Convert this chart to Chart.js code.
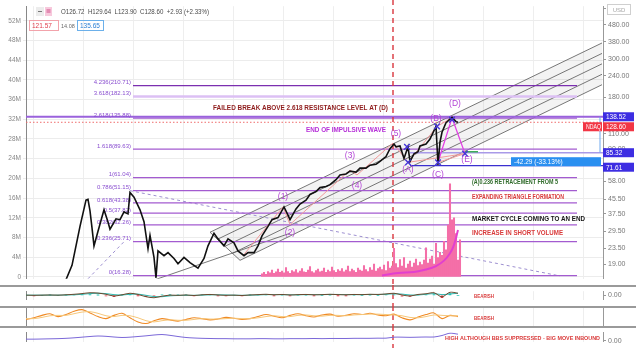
<!DOCTYPE html>
<html>
<head>
<meta charset="utf-8">
<title>NDAQ</title>
<script src="https://cdn.jsdelivr.net/npm/chart.js@4.4.1/dist/chart.umd.min.js"></script>
<style>
  html, body { margin: 0; padding: 0; background: #fff; }
  #wrap { position: relative; width: 636px; height: 348px; overflow: hidden; }
  #wrap canvas { position: absolute; left: 0; }
</style>
</head>
<body>
<div id="wrap">
  <canvas id="mainChart" width="636" height="285" style="top:0"></canvas>
  <canvas id="oscChart" width="636" height="21" style="top:285px"></canvas>
  <canvas id="rsiChart" width="636" height="20" style="top:306px"></canvas>
  <canvas id="bbwChart" width="636" height="22" style="top:326px"></canvas>
</div>
<script>
// ---- data (bar index along x, price in USD, volume in millions) ----
const priceIdx = [20,23,25,27,29,30,31,32,33,34,36,39,41,42,45,47,49,51,52,54,57,59,61,62,64,65,66,69,71,74,76,79,82,86,89,91,94,96,99,101,104,106,109,111,114,116,118,121,123,126,129,131,132,135,137,140,142,145,147,150,152,155,157,160,162,165,167,170,172,175,177,180,182,184,185,187,189,191,192,194,196,197,200,202,205,206,207,208,210,213,215,216];
const priceClose = [15.4,18.7,24.3,31.6,40.0,45.0,45.5,39.0,31.0,24.3,29.6,39.5,33.5,30.4,35.0,34.6,38.4,37.4,49.9,46.9,39.5,33.7,23.4,28.0,20.8,15.8,22.7,21.3,22.2,20.5,19.1,20.8,19.4,18.0,20.5,24.3,28.8,26.7,24.3,26.7,25.3,22.7,21.3,22.2,22.2,24.3,27.8,31.6,34.6,35.6,41.1,36.8,34.6,40.0,42.7,45.0,48.6,50.6,53.3,54.1,55.5,59.3,63.2,64.1,66.6,65.7,69.3,69.3,72.1,73.0,75.9,81.0,90.0,96.0,92.4,93.5,78.9,92.4,75.9,84.0,86.5,93.5,96.0,102.6,121.6,72.5,98.6,112.4,128.0,137.5,129.7,128.6];

const volStart = 118;
const shortVolume = [
  0.6,0.9,0.5,1.1,0.8,1.4,0.7,1.0,1.6,0.9,
  1.2,0.8,1.9,1.1,0.7,1.3,1.0,1.5,0.8,1.2,
  1.7,1.0,0.9,1.4,2.1,1.1,0.8,1.3,1.6,1.0,
  1.2,1.8,0.9,1.4,1.1,2.0,1.3,0.9,1.5,1.2,
  1.7,1.0,1.4,2.2,1.1,1.6,1.3,0.9,1.8,1.4,
  1.2,2.3,1.5,1.1,1.9,1.4,2.6,1.2,1.7,2.0,
  1.5,2.4,1.3,3.1,1.8,2.2,5.8,2.7,1.9,3.5,
  2.2,3.9,1.8,2.6,3.2,2.0,2.8,3.6,2.3,3.0,
  2.5,3.4,5.9,2.8,3.6,4.2,2.6,6.8,3.9,5.0,
  4.4,7.2,5.5,10.5,18.9,11.6,12.0,8.8,3.4,7.5
];
const volTrendIdx = [178,186,194,200,205,209,212,214,216];
const volTrend = [0.3,0.8,1.0,1.5,2.2,3.3,4.8,6.5,9.5];

const fibRatios = ['4.236','3.618','2.618','1.618','1','0.786','0.618','0.5','0.382','0.236','0'];
const fibPrices = [210.71,182.13,135.88,89.63,61.04,51.15,43.38,37.82,32.26,25.71,16.28];
const fibFrom = 53.5, fibTo = 275.5;

const priceTicks = [19,23.5,29.5,37.5,45.5,58,90,110,180,240,300,380,480,600];
const volTicks = [0,4,8,12,16,20,24,28,32,36,40,44,48,52];
const gridIdx = [3.5,28.5,53.5,78.5,103.5,128.5,153.5,178.5,203.5,228.5,253.5,278.5];

const waveNames = ['(1)','(2)','(3)','(4)','(5)','(A)','(B)','(C)','(D)','(E)'];
const waveIdx = [128.5,132,162,165.5,185,191,205,206,214.5,220.5];
const wavePrice = [47.4,29.2,82.1,54.7,110.9,67.5,135,63.2,164.3,77.9];

const pivotIdx = [190.5,205.5,213,191,206,219.5];
const pivotPrice = [92.4,121.6,133.2,74.9,74.9,84.3];

// wave path: 0,1,2,3,4,5 then A..E
const impulseIdx = [108.5,128.5,132,162,165.5,183.5];
const impulsePrice = [21.3,41.1,32.4,67.5,63.2,97.3];
const ptA = [191,74.9], ptB = [205.5,121.6], ptC = [206,74.9], ptD = [213,136.8], ptE = [219.5,84.3];

const channelTop = [[92,29.2],[288,374.6]];
const channelBottom = [[107,20.0],[288,213.4]];
const supportLine = [[64.5,15.4],[132,28.8]];
const fallingLine = [[52,51.15],[267,16.2]];
const fibDiagonal = [[31,15.6],[49,25.7]];

const turnIdx = 183.5;
const lastPrice = 128.60;
const tagPrices = [138.52,85.32,71.61];

const oscStart = 0, oscStep = 4;
const macdLine = [0.1,0.0,0.1,0.2,0.1,0.3,0.6,1.0,1.5,1.3,0.6,-0.4,0.3,1.2,0.5,-0.8,-1.4,-0.5,0.1,0.0,0.2,-0.1,0.3,0.5,0.2,0.0,0.1,-0.1,0.2,0.4,0.6,0.3,0.5,0.2,0.4,0.5,0.3,0.4,0.6,0.4,0.3,0.5,0.4,0.6,0.5,0.8,1.2,0.2,-0.4,0.5,0.9,1.5,-0.9,1.8,1.2];
const signalLine = [0.1,0.1,0.1,0.1,0.1,0.2,0.3,0.6,1.0,1.2,1.0,0.4,0.2,0.6,0.7,0.0,-0.7,-0.8,-0.3,-0.1,0.0,0.0,0.1,0.3,0.3,0.2,0.1,0.0,0.1,0.2,0.4,0.4,0.4,0.3,0.3,0.4,0.4,0.4,0.5,0.5,0.4,0.4,0.4,0.5,0.5,0.6,0.9,0.7,0.2,0.2,0.6,1.0,0.4,0.8,1.2];
const rsiLine = [48,52,58,62,55,60,68,72,64,55,50,58,63,52,42,38,45,50,47,44,48,52,50,47,49,53,51,48,50,55,60,56,52,58,62,57,54,59,61,56,58,62,60,63,59,57,61,52,47,54,60,64,50,58,55];
const rsiSignal = [50,50,53,57,58,58,62,66,67,63,57,55,58,57,52,45,42,45,47,46,46,48,50,49,49,50,51,50,50,52,55,57,55,55,58,59,57,56,58,58,57,59,60,61,61,60,59,57,53,52,55,59,58,57,57];
const bbWidth = [1.0,1.0,1.1,1.2,1.3,1.5,1.8,2.2,2.6,2.9,2.7,2.3,2.0,2.2,2.6,3.0,3.5,3.8,3.3,2.6,2.0,1.7,1.5,1.4,1.3,1.3,1.2,1.2,1.2,1.3,1.3,1.2,1.2,1.3,1.3,1.3,1.4,1.3,1.4,1.4,1.4,1.5,1.5,1.5,1.6,1.6,2.2,2.2,2.1,2.2,2.3,2.3,3.2,4.6,4.0];

// ---- chart ----
const FONT = '"Liberation Sans", Arial, sans-serif';
Chart.defaults.font.family = FONT;
Chart.defaults.animation = false;

const fitLeft = s => { s.width = 26; };
const fitRight = s => { s.width = 33; };
const xScale = () => ({
  type: 'linear', min: 0, max: 288.5, offset: false,
  ticks: { display: false },
  grid: { color: '#eeeeee', drawTicks: false, offset: false },
  border: { display: false },
  afterBuildTicks: s => { s.ticks = gridIdx.map(v => ({ value: v })); },
  afterFit: s => { s.height = 0; }
});

function note(ctx, text, x, y, color, w, size) {
  ctx.font = 'bold ' + (size || 7) + 'px ' + FONT;
  ctx.fillStyle = color;
  ctx.textAlign = 'left';
  ctx.textBaseline = 'middle';
  ctx.fillText(text, x, y, w);
}

function seg(ctx, x1, y1, x2, y2) {
  ctx.beginPath(); ctx.moveTo(x1, y1); ctx.lineTo(x2, y2); ctx.stroke();
}

function dashedTurn(chart) {
  const ctx = chart.ctx, x = chart.scales.x.getPixelForValue(turnIdx);
  ctx.save();
  ctx.strokeStyle = '#d9363e';
  ctx.lineWidth = 1.4;
  ctx.setLineDash([5, 4]);
  seg(ctx, x, 0, x, chart.height);
  ctx.restore();
}

const mainDecor = {
  id: 'mainDecor',
  beforeDatasetsDraw(chart) {
    const { ctx, chartArea: a, scales: { x, price } } = chart;
    const X = v => x.getPixelForValue(v), P = v => price.getPixelForValue(v);
    ctx.save();
    ctx.beginPath(); ctx.rect(a.left, a.top, a.right - a.left, a.bottom - a.top); ctx.clip();

    // parallel channel
    const t0 = [X(channelTop[0][0]), P(channelTop[0][1])], t1 = [X(channelTop[1][0]), P(channelTop[1][1])];
    const b0 = [X(channelBottom[0][0]), P(channelBottom[0][1])], b1 = [X(channelBottom[1][0]), P(channelBottom[1][1])];
    const mix = (p, q, t) => [p[0] + (q[0] - p[0]) * t, p[1] + (q[1] - p[1]) * t];
    const rails = [0, 0.25, 0.5, 0.75, 1].map(t => [mix(t0, b0, t), mix(t1, b1, t)]);
    ctx.fillStyle = 'rgba(90,90,90,0.07)';
    for (let k = 0; k < 4; k++) {
      const r1 = rails[k], r2 = rails[k + 1];
      ctx.beginPath();
      ctx.moveTo(r1[0][0], r1[0][1]); ctx.lineTo(r1[1][0], r1[1][1]);
      ctx.lineTo(r2[1][0], r2[1][1]); ctx.lineTo(r2[0][0], r2[0][1]);
      ctx.closePath(); ctx.fill();
    }
    ctx.strokeStyle = '#555';
    ctx.lineWidth = 0.8;
    rails.forEach(r => seg(ctx, r[0][0], r[0][1], r[1][0], r[1][1]));
    seg(ctx, t0[0], t0[1], b0[0], b0[1]);
    seg(ctx, X(supportLine[0][0]), P(supportLine[0][1]), X(supportLine[1][0]), P(supportLine[1][1]));

    // dashed trend lines
    ctx.strokeStyle = '#9d8fd0';
    ctx.lineWidth = 1;
    ctx.setLineDash([3, 3]);
    seg(ctx, X(fallingLine[0][0]), P(fallingLine[0][1]), X(fallingLine[1][0]), P(fallingLine[1][1]));
    seg(ctx, X(fibDiagonal[0][0]), P(fibDiagonal[0][1]), X(fibDiagonal[1][0]), P(fibDiagonal[1][1]));
    ctx.setLineDash([]);

    // fib levels
    fibPrices.forEach((v, i) => {
      const y = P(v);
      ctx.strokeStyle = i === 0 ? '#7b2fb0' : (i === 1 ? '#dcc0f4' : '#a35bd0');
      ctx.lineWidth = i === 1 ? 2.5 : 1.2;
      seg(ctx, X(fibFrom), y, X(fibTo), y);
    });
    // resistance + tagged levels
    ctx.strokeStyle = '#9a62dc'; ctx.lineWidth = 2;
    seg(ctx, a.left, P(tagPrices[0]), a.right, P(tagPrices[0]));
    ctx.strokeStyle = '#a99ae8'; ctx.lineWidth = 1.5;
    seg(ctx, X(192), P(tagPrices[1]), a.right, P(tagPrices[1]));
    ctx.strokeStyle = '#3b2fd0'; ctx.lineWidth = 1.3;
    seg(ctx, X(192), P(tagPrices[2]), a.right, P(tagPrices[2]));
    ctx.strokeStyle = '#6fa8ef'; ctx.lineWidth = 1;
    seg(ctx, X(287), P(tagPrices[0]), X(287), P(tagPrices[1]));
    ctx.strokeStyle = '#3fae5a'; ctx.lineWidth = 1.5;
    seg(ctx, X(219), P(86.5), X(226), P(86.5));

    // last price line
    ctx.strokeStyle = '#ef6b6b'; ctx.lineWidth = 1;
    ctx.setLineDash([1.5, 2]);
    seg(ctx, a.left, P(lastPrice), a.right, P(lastPrice));
    ctx.setLineDash([]);

    // wave lines
    ctx.strokeStyle = '#f29a9a'; ctx.lineWidth = 1;
    ctx.beginPath();
    impulseIdx.forEach((v, i) => { const px = X(v), py = P(impulsePrice[i]); i ? ctx.lineTo(px, py) : ctx.moveTo(px, py); });
    ctx.lineTo(X(ptA[0]), P(ptA[1]));
    ctx.lineTo(X(ptB[0]), P(ptB[1]));
    ctx.stroke();
    [[ptA, ptE], [ptC, ptE], [ptB, ptD]].forEach(([p, q]) => seg(ctx, X(p[0]), P(p[1]), X(q[0]), P(q[1])));
    ctx.strokeStyle = '#e43fe6'; ctx.lineWidth = 1.3;
    ctx.beginPath();
    ctx.moveTo(X(ptC[0]), P(ptC[1])); ctx.lineTo(X(ptD[0]), P(ptD[1])); ctx.lineTo(X(ptE[0]), P(ptE[1]));
    ctx.stroke();
    ctx.restore();

    dashedTurn(chart);

    // fib labels
    ctx.save();
    ctx.font = '6px ' + FONT;
    ctx.fillStyle = '#8a4fd0';
    ctx.textAlign = 'right';
    ctx.textBaseline = 'middle';
    fibPrices.forEach((v, i) => {
      ctx.fillText(fibRatios[i] + '(' + v.toFixed(2) + ')', X(fibFrom) - 2, P(v) - 3);
    });
    ctx.restore();
  },
  afterDatasetsDraw(chart) {
    const { ctx, scales: { x, price } } = chart;
    const X = v => x.getPixelForValue(v), P = v => price.getPixelForValue(v);
    ctx.save();
    ctx.font = '8.5px ' + FONT;
    ctx.fillStyle = '#b345d6';
    ctx.textAlign = 'center';
    ctx.textBaseline = 'middle';
    waveNames.forEach((n, i) => ctx.fillText(n, X(waveIdx[i]), P(wavePrice[i])));

    note(ctx, 'FAILED BREAK ABOVE 2.618 RESISTANCE LEVEL AT (D)', X(93.5), P(155.9), '#8e1b1b', 175);
    note(ctx, 'END OF IMPULSIVE WAVE', X(140), P(115.4), '#b62fd8', 80);
    note(ctx, '(A)0.236 RETRACEMENT FROM 5', X(223), P(57.7), '#2f6b2a', 86);
    note(ctx, 'EXPANDING TRIANGLE FORMATION', X(223), P(46.8), '#d93a3a', 92);
    note(ctx, 'MARKET CYCLE COMING TO AN END', X(223), P(35.1), '#151515', 113);
    note(ctx, 'INCREASE IN SHORT VOLUME', X(223), P(28.8), '#d93a3a', 91);
    ctx.restore();
  },
  afterDraw(chart) {
    const { ctx, chartArea: a, scales: { price } } = chart;
    const P = v => price.getPixelForValue(v);
    ctx.save();
    ctx.textBaseline = 'middle';
    // price tags on right axis
    const tag = (txt, x0, w, y, bg, fg) => {
      ctx.fillStyle = bg;
      ctx.fillRect(x0, y - 4.5, w, 9);
      ctx.fillStyle = fg || '#fff';
      ctx.font = '6.5px ' + FONT;
      ctx.textAlign = 'left';
      ctx.fillText(txt, x0 + 3, y + 0.5, w - 4);
    };
    tag('-42.29 (-33.13%)', 511, 90, P(tagPrices[1]) + 9, '#2a8ff0');
    tag(tagPrices[0].toFixed(2), a.right, 31, P(tagPrices[0]), '#3d2de2');
    tag('NDAQ', a.right - 20, 19, P(tagPrices[0]) + 10, '#f23645');
    tag(lastPrice.toFixed(2), a.right, 31, P(tagPrices[0]) + 10, '#f23645');
    tag(tagPrices[1].toFixed(2), a.right, 31, P(tagPrices[1]), '#3d2de2');
    tag(tagPrices[2].toFixed(2), a.right, 31, P(tagPrices[2]) + 1.5, '#3d2de2');

    // USD badge
    ctx.fillStyle = '#fff';
    ctx.fillRect(607, 4, 24, 11);
    ctx.strokeStyle = '#cfcfcf'; ctx.lineWidth = 1;
    ctx.strokeRect(607.5, 4.5, 23, 10);
    ctx.fillStyle = '#a8a8a8'; ctx.font = '6px ' + FONT; ctx.textAlign = 'center';
    ctx.fillText('USD', 619, 10);

    // legend header
    ctx.fillStyle = '#ececec'; ctx.fillRect(36, 7, 8, 9);
    ctx.fillStyle = '#f7c9dc'; ctx.fillRect(45, 7, 7, 9);
    ctx.fillStyle = '#777'; ctx.fillRect(38, 11, 4, 1);
    ctx.fillStyle = '#d0508a'; ctx.fillRect(46.5, 9.5, 4, 1); ctx.fillRect(46.5, 11.5, 4, 1);
    ctx.textAlign = 'left';
    ctx.fillStyle = '#4a4a4a';
    ctx.font = '6.5px ' + FONT;
    ctx.fillText('O126.72  H129.64  L123.90  C128.60  +2.93 (+2.33%)', 61, 12, 148);
    ctx.strokeStyle = '#f2a3ab'; ctx.strokeRect(29.5, 20.5, 29, 10);
    ctx.fillStyle = '#e0404f'; ctx.fillText('121.57', 32, 26, 24);
    ctx.fillStyle = '#6a6a6a'; ctx.font = '5.5px ' + FONT; ctx.fillText('14.08', 61, 26);
    ctx.strokeStyle = '#6cb0ea'; ctx.strokeRect(77.5, 20.5, 26, 10);
    ctx.fillStyle = '#2a7fd4'; ctx.font = '6.5px ' + FONT; ctx.fillText('135.65', 80, 26, 22);
    ctx.restore();
  }
};

new Chart(document.getElementById('mainChart'), {
  type: 'line',
  data: {
    datasets: [
      {
        type: 'line', label: 'NDAQ', yAxisID: 'price',
        data: priceIdx.map((v, i) => ({ x: v, y: priceClose[i] })),
        borderColor: '#111', borderWidth: 1.6, pointRadius: 0, order: 0
      },
      {
        type: 'scatter', label: 'pivots', yAxisID: 'price',
        data: pivotIdx.map((v, i) => ({ x: v, y: pivotPrice[i] })),
        pointStyle: 'crossRot', pointRadius: 4, borderColor: '#4637d8', borderWidth: 1.4, order: -1
      },
      {
        type: 'line', label: 'short volume trend', yAxisID: 'vol',
        data: volTrendIdx.map((v, i) => ({ x: v, y: volTrend[i] })),
        borderColor: '#e23fcf', borderWidth: 2, tension: 0.4, pointRadius: 0, order: 1
      },
      {
        type: 'bar', label: 'short volume', yAxisID: 'vol',
        data: shortVolume.map((v, i) => ({ x: volStart + i, y: v })),
        backgroundColor: '#f46fa8', barThickness: 1.4, order: 2
      }
    ]
  },
  options: {
    responsive: false,
    animation: false,
    layout: { padding: { top: 3, bottom: 1, left: 0, right: 0 } },
    plugins: { legend: { display: false }, tooltip: { enabled: false } },
    scales: {
      x: xScale(),
      price: {
        type: 'logarithmic', position: 'right', min: 15.59, max: 615,
        afterBuildTicks: s => { s.ticks = priceTicks.map(v => ({ value: v })); },
        afterFit: fitRight,
        grid: { drawOnChartArea: false, tickLength: 3, color: '#999' },
        border: { color: '#999' },
        ticks: { font: { size: 7 }, color: '#777', padding: 2, callback: v => Number(v).toFixed(2) }
      },
      vol: {
        type: 'linear', position: 'left', min: -0.39, max: 54.96,
        afterBuildTicks: s => { s.ticks = volTicks.map(v => ({ value: v })); },
        afterFit: fitLeft,
        grid: { color: '#ececec', tickLength: 3 },
        border: { color: '#888' },
        ticks: { font: { size: 6.5 }, color: '#888', padding: 2, callback: v => v === 0 ? '0' : v + 'M' }
      }
    }
  },
  plugins: [mainDecor]
});

// ---- indicator panes ----
const oscX = i => oscStart + i * oscStep;

function paneDecor(notes) {
  return {
    id: 'paneDecor',
    beforeDatasetsDraw(chart) {
      const ctx = chart.ctx;
      ctx.save();
      ctx.fillStyle = '#9a9a9a';
      ctx.fillRect(0, 0, chart.width, 2);
      ctx.restore();
      dashedTurn(chart);
    },
    afterDatasetsDraw(chart) {
      const ctx = chart.ctx, x = chart.scales.x, a = chart.chartArea;
      ctx.save();
      notes.forEach(n => note(ctx, n.text, x.getPixelForValue(n.at), (a.top + a.bottom) / 2 + 1, '#d93a3a', n.w, 6));
      ctx.restore();
    }
  };
}

function pane(id, datasets, yMin, yMax, zeroTick, pad, notes) {
  return new Chart(document.getElementById(id), {
    type: 'line',
    data: { datasets },
    options: {
      responsive: false,
      animation: false,
      layout: { padding: pad },
      plugins: { legend: { display: false }, tooltip: { enabled: false } },
      scales: {
        x: xScale(),
        yLeft: { type: 'linear', position: 'left', min: yMin, max: yMax, ticks: { display: false }, grid: { display: false }, border: { color: '#888' }, afterFit: fitLeft },
        yVal: {
          type: 'linear', position: 'right', min: yMin, max: yMax,
          afterBuildTicks: s => { s.ticks = zeroTick ? [{ value: 0 }] : []; },
          afterFit: fitRight,
          grid: { drawOnChartArea: false, tickLength: 3, color: '#999' },
          border: { color: '#999' },
          ticks: { font: { size: 7 }, color: '#777', padding: 2, callback: v => Number(v).toFixed(2) }
        }
      }
    },
    plugins: [paneDecor(notes)]
  });
}

const lineSet = (vals, color, w) => ({
  type: 'line', yAxisID: 'yVal', data: vals.map((v, i) => ({ x: oscX(i), y: v })),
  borderColor: color, borderWidth: w || 1, pointRadius: 0, tension: 0.3
});

pane('oscChart', [
  lineSet(macdLine, '#6b4a2f', 1),
  lineSet(signalLine, '#2fb8b0', 1),
  {
    type: 'bar', yAxisID: 'yVal',
    data: macdLine.map((v, i) => ({ x: oscX(i), y: v - signalLine[i] })),
    backgroundColor: macdLine.map((v, i) => v - signalLine[i] >= 0 ? '#26c6b8' : '#e53946'),
    barThickness: 2
  }
], -2.6, 2.4, true, { top: 2, bottom: 0 }, [{ text: 'BEARISH', at: 224, w: 20 }]);

pane('rsiChart', [
  lineSet(rsiSignal, '#f6c77a', 1),
  lineSet(rsiLine, '#f08a24', 1.1)
], 32, 76, false, { top: 2, bottom: 0 }, [{ text: 'BEARISH', at: 224, w: 20 }]);

pane('bbwChart', [
  lineSet(bbWidth, '#7b68d8', 1)
], -0.6, 5.2, true, { top: 2, bottom: 3 }, [{ text: 'HIGH ALTHOUGH BBS SUPPRESSED - BIG MOVE INBOUND', at: 209.5, w: 155 }]);
</script>
</body>
</html>
